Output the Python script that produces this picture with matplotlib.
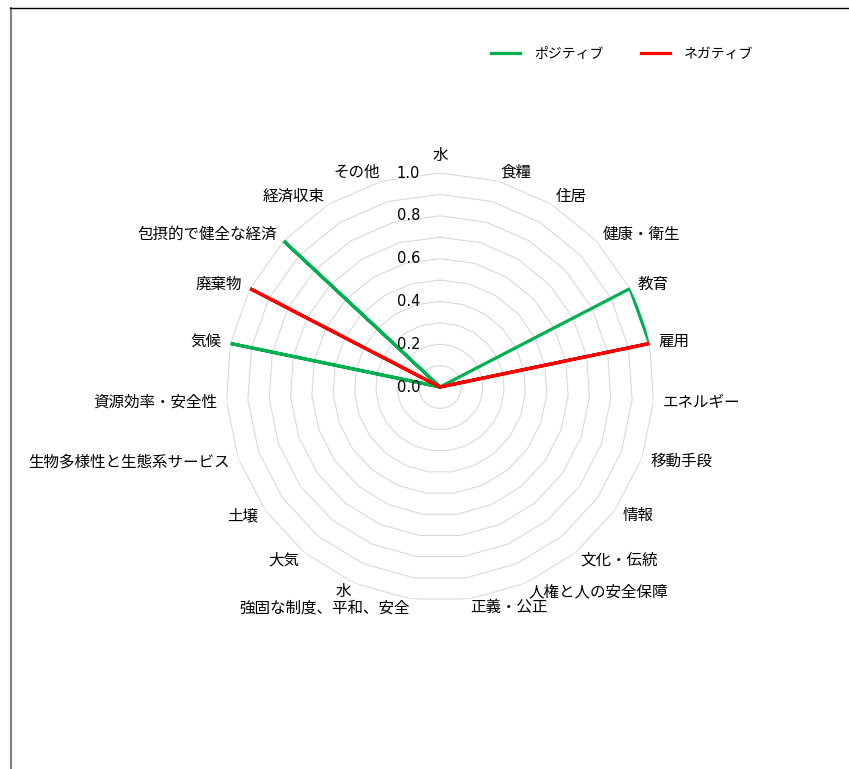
import matplotlib
matplotlib.use("Agg")
import matplotlib.pyplot as plt
import numpy as np
from matplotlib.lines import Line2D

plt.rcParams['font.family'] = ['Noto Sans CJK JP', 'DejaVu Sans']

categories = ['水', '食糧', '住居', '健康・衛生', '教育', '雇用', 'エネルギー', '移動手段',
              '情報', '文化・伝統', '人権と人の安全保障', '正義・公正', '強固な制度、平和、安全',
              '水', '大気', '土壌', '生物多様性と生態系サービス', '資源効率・安全性', '気候',
              '廃棄物', '包摂的で健全な経済', '経済収束', 'その他']
positive = [0, 0, 0, 0, 1.0, 1.0, 0, 0, 0, 0, 0, 0, 0, 0, 0, 0, 0, 0, 1.0, 0, 1.0, 0, 0]
negative = [0, 0, 0, 0, 0, 1.0, 0, 0, 0, 0, 0, 0, 0, 0, 0, 0, 0, 0, 0, 1.0, 0, 0, 0]
tick_vals = [0.0, 0.2, 0.4, 0.6, 0.8, 1.0]
ring_vals = [0.1, 0.2, 0.3, 0.4, 0.5, 0.6, 0.7, 0.8, 0.9, 1.0]

W, H = 849, 769
fig = plt.figure(figsize=(W / 100, H / 100), dpi=100)

cx, cy, R = 440, 387, 214
ax = fig.add_axes([(cx - R) / W, (H - cy - R) / H, 2 * R / W, 2 * R / H], projection='polar')
ax.set_theta_zero_location('N')
ax.set_theta_direction(-1)
ax.set_ylim(0, 1)
ax.grid(False)
ax.set_xticks([])
ax.set_yticks([])
ax.spines['polar'].set_visible(False)
ax.patch.set_alpha(0)

n = len(categories)
theta = np.arange(n) * 2 * np.pi / n
theta_c = np.append(theta, theta[0])

# polygon grid
for r in ring_vals:
    ax.plot(theta_c, [r] * (n + 1), color='#d9d9d9', lw=0.8, zorder=1)

ax.plot(theta_c, positive + positive[:1], color='#00b050', lw=2.3, label='ポジティブ', zorder=3)
ax.plot(theta_c, negative + negative[:1], color='#ff0000', lw=2.3, label='ネガティブ', zorder=3)

# value labels along top axis
for v in tick_vals:
    ax.annotate(f'{v:.1f}', (0, v), xytext=(-20, 0), textcoords='offset pixels',
                ha='right', va='center', fontsize=10.5, family=['DejaVu Sans'])

# category labels
for t, lab in zip(theta, categories):
    s = np.sin(t)
    if s > 0.05:
        ha, va = 'left', 'center'
    elif s < -0.05:
        ha, va = 'right', 'center'
    else:
        ha, va = 'center', 'bottom'
    ax.text(t, 1.042, lab, ha=ha, va=va, fontsize=11.2)

fig.legend(loc='center', bbox_to_anchor=(622 / W, 1 - 54 / H), ncol=2, frameon=False,
           fontsize=10, handlelength=2.1, handletextpad=1.0, columnspacing=2.7)

# figure border (top and left)
fig.add_artist(Line2D([10.5 / W, 10.5 / W], [0, 1 - 8 / H], color='#808080', lw=1.5,
                      transform=fig.transFigure))
fig.add_artist(Line2D([10 / W, 1], [1 - 8 / H, 1 - 8 / H], color='black', lw=1.0,
                      transform=fig.transFigure))

fig.savefig('out.png', dpi=100)
